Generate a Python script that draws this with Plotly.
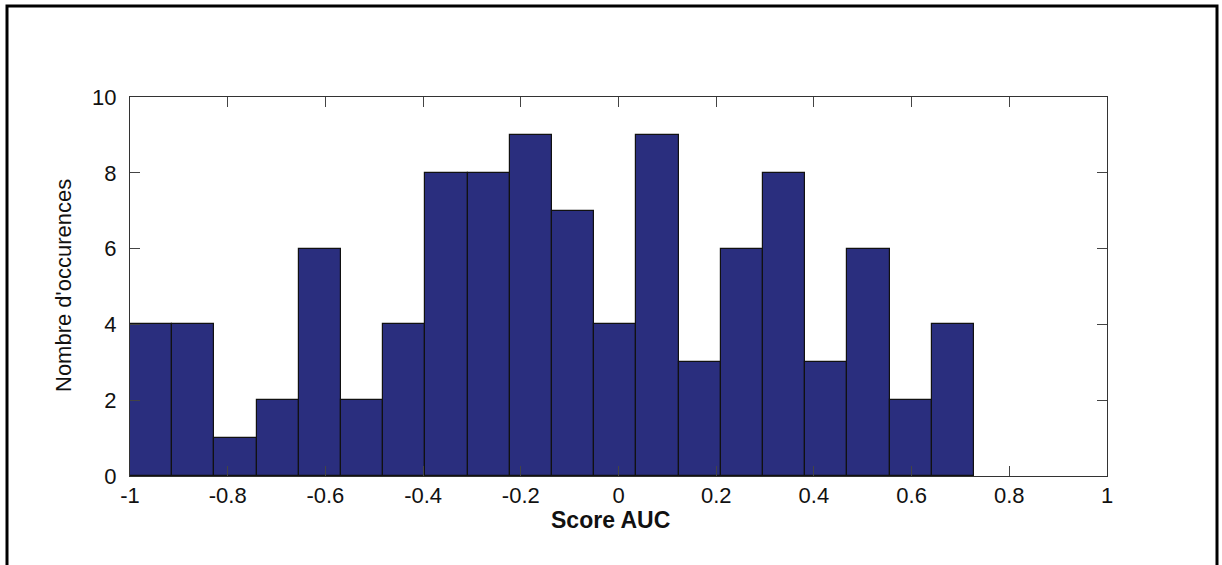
import numpy as np
import plotly.graph_objects as go

# Histogram of AUC scores: 20 equal bins spanning [-1, 0.7275]
bin_low = -1.0
bin_high = 0.7275
counts = [4, 4, 1, 2, 6, 2, 4, 8, 8, 9, 7, 4, 9, 3, 6, 8, 3, 6, 2, 4]

x_tick_vals = [-1, -0.8, -0.6, -0.4, -0.2, 0, 0.2, 0.4, 0.6, 0.8, 1]
x_tick_text = ["-1", "-0.8", "-0.6", "-0.4", "-0.2", "0", "0.2", "0.4", "0.6", "0.8", "1"]
y_tick_vals = [0, 2, 4, 6, 8, 10]

x_title = "Score AUC"
y_title = "Nombre d'occurences"

n_bins = len(counts)
edges = np.linspace(bin_low, bin_high, n_bins + 1)
centers = (edges[:-1] + edges[1:]) / 2
bin_width = edges[1] - edges[0]

W, H = 1222, 565
L, R, T, B = 130, 1107, 97, 476  # plot area in pixels
pw, ph = R - L, B - T

fig = go.Figure(
    go.Bar(
        x=centers,
        y=counts,
        width=bin_width,
        marker=dict(color="#2a2e7e", line=dict(color="#111111", width=1.2)),
        hoverinfo="x+y",
    )
)

axis_common = dict(
    showline=True,
    linecolor="#333333",
    linewidth=1,
    mirror="ticks",
    ticks="inside",
    ticklen=10,
    tickwidth=1,
    tickcolor="#444444",
    showgrid=False,
    zeroline=False,
    tickfont=dict(family="Arial", size=22, color="#111111"),
)

fig.update_xaxes(
    range=[-1, 1],
    tickvals=x_tick_vals,
    ticktext=x_tick_text,
    ticklabelstandoff=0,
    **axis_common,
)
fig.update_yaxes(
    range=[0, 10],
    tickvals=y_tick_vals,
    ticktext=[str(v) for v in y_tick_vals],
    ticklabelstandoff=8,
    **axis_common,
)


def px_x(x):
    return (x - L) / pw


def px_y(y):
    return (B - y) / ph


fig.update_layout(
    width=W,
    height=H,
    margin=dict(l=L, r=W - R, t=T, b=H - B, autoexpand=False),
    paper_bgcolor="white",
    plot_bgcolor="white",
    bargap=0,
    showlegend=False,
    annotations=[
        dict(
            text=x_title,
            xref="paper", yref="paper",
            x=px_x(610), y=px_y(520),
            xanchor="center", yanchor="middle",
            showarrow=False,
            font=dict(family="Arial", size=23, color="#111111", weight="bold"),
        ),
        dict(
            text=y_title,
            xref="paper", yref="paper",
            x=px_x(63), y=px_y(286),
            xanchor="center", yanchor="middle",
            textangle=-90,
            showarrow=False,
            font=dict(family="Arial", size=22, color="#111111"),
        ),
    ],
    shapes=[
        dict(
            type="rect",
            xref="paper", yref="paper",
            x0=px_x(7), x1=px_x(1217), y0=px_y(575), y1=px_y(6),
            line=dict(color="black", width=3),
            fillcolor="rgba(0,0,0,0)",
            layer="above",
        )
    ],
)

fig.write_html("out.html")
